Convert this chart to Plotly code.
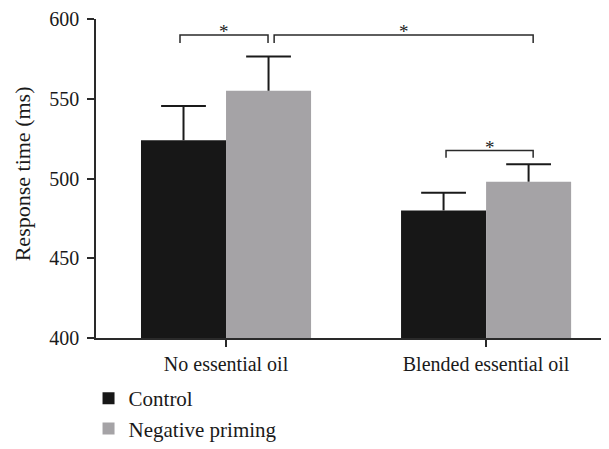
import plotly.graph_objects as go

categories = ["No essential oil", "Blended essential oil"]
control = [524, 480]
control_err = [21.5, 11]
negative = [555, 498]
negative_err = [21.5, 11]
series_names = ["Control", "Negative priming"]
colors = ["#171717", "#a5a3a6"]
y_ticks = [400, 450, 500, 550, 600]
y_title = "Response time (ms)"

# significance brackets: (x0, x1, y, drop)
brackets = [(-0.177, 0.1615, 590, 5), (0.185, 1.181, 590, 5), (0.846, 1.181, 517.5, 4.5)]

FONT = "Liberation Serif"
INK = "#1a1a1a"
# the page body has an 8px margin, so the figure is drawn 8px smaller
W, H = 601, 441
fig = go.Figure()
for name, vals, errs, col in [(series_names[0], control, control_err, colors[0]),
                              (series_names[1], negative, negative_err, colors[1])]:
    fig.add_trace(go.Bar(
        x=categories, y=vals, name=name,
        marker=dict(color=col, line=dict(width=0)),
        error_y=dict(type="data", array=errs, arrayminus=[0] * len(errs), symmetric=False,
                     color=INK, thickness=2, width=0),
    ))
# caps of the upward-only error bars
for name, vals, errs in [(series_names[0], control, control_err),
                         (series_names[1], negative, negative_err)]:
    fig.add_trace(go.Scatter(
        x=categories, y=[v + e for v, e in zip(vals, errs)], mode="markers",
        marker=dict(symbol="line-ew", size=32, line=dict(width=2, color=INK)),
        showlegend=False, hoverinfo="skip", name=name + " cap",
    ))

for x0, x1, y, d in brackets:
    fig.add_shape(type="path", xref="x", yref="y",
                  path=f"M{x0},{y-d} L{x0},{y} L{x1},{y} L{x1},{y-d}",
                  line=dict(color="#2a2a2a", width=1.5))
    fig.add_annotation(x=(x0 + x1) / 2, y=y, xref="x", yref="y", text="*",
                       showarrow=False, yanchor="middle", yshift=3,
                       font=dict(family=FONT, size=19, color="#222"))

fig.add_annotation(text=y_title, xref="paper", yref="paper", x=-0.145, y=0.516,
                   textangle=-90, showarrow=False, xanchor="center", yanchor="middle",
                   font=dict(family=FONT, size=22, color=INK))

fig.update_layout(
    width=W, height=H,
    margin=dict(l=88, r=2, t=11, b=111, autoexpand=False),
    paper_bgcolor="white", plot_bgcolor="white",
    barmode="group", bargap=0.346, bargroupgap=0,
    scattermode="group", scattergap=0.346,
    font=dict(family=FONT, size=20, color=INK),
    showlegend=True,
    legend=dict(xref="container", yref="container", x=0.134, y=0.0,
                xanchor="left", yanchor="bottom", maxheight=200,
                font=dict(family=FONT, size=21, color=INK),
                tracegroupgap=0, itemwidth=30, bgcolor="rgba(0,0,0,0)"),
)
fig.update_xaxes(type="category", range=[-0.5, 1.465], showline=True, linecolor="#2a2a2a",
                 linewidth=1.5, ticks="outside", ticklen=7, tickcolor="#2a2a2a", tickwidth=1.5,
                 showgrid=False, zeroline=False, tickfont=dict(size=20), automargin=False)
fig.update_yaxes(range=[400, 600], tickvals=y_ticks, showline=True, linecolor="#2a2a2a",
                 linewidth=1.5, ticks="outside", ticklen=7, tickcolor="#2a2a2a", tickwidth=1.5,
                 showgrid=False, zeroline=False, tickfont=dict(size=20), automargin=False,
                 ticklabelstandoff=4)

fig.write_html("out.html")
